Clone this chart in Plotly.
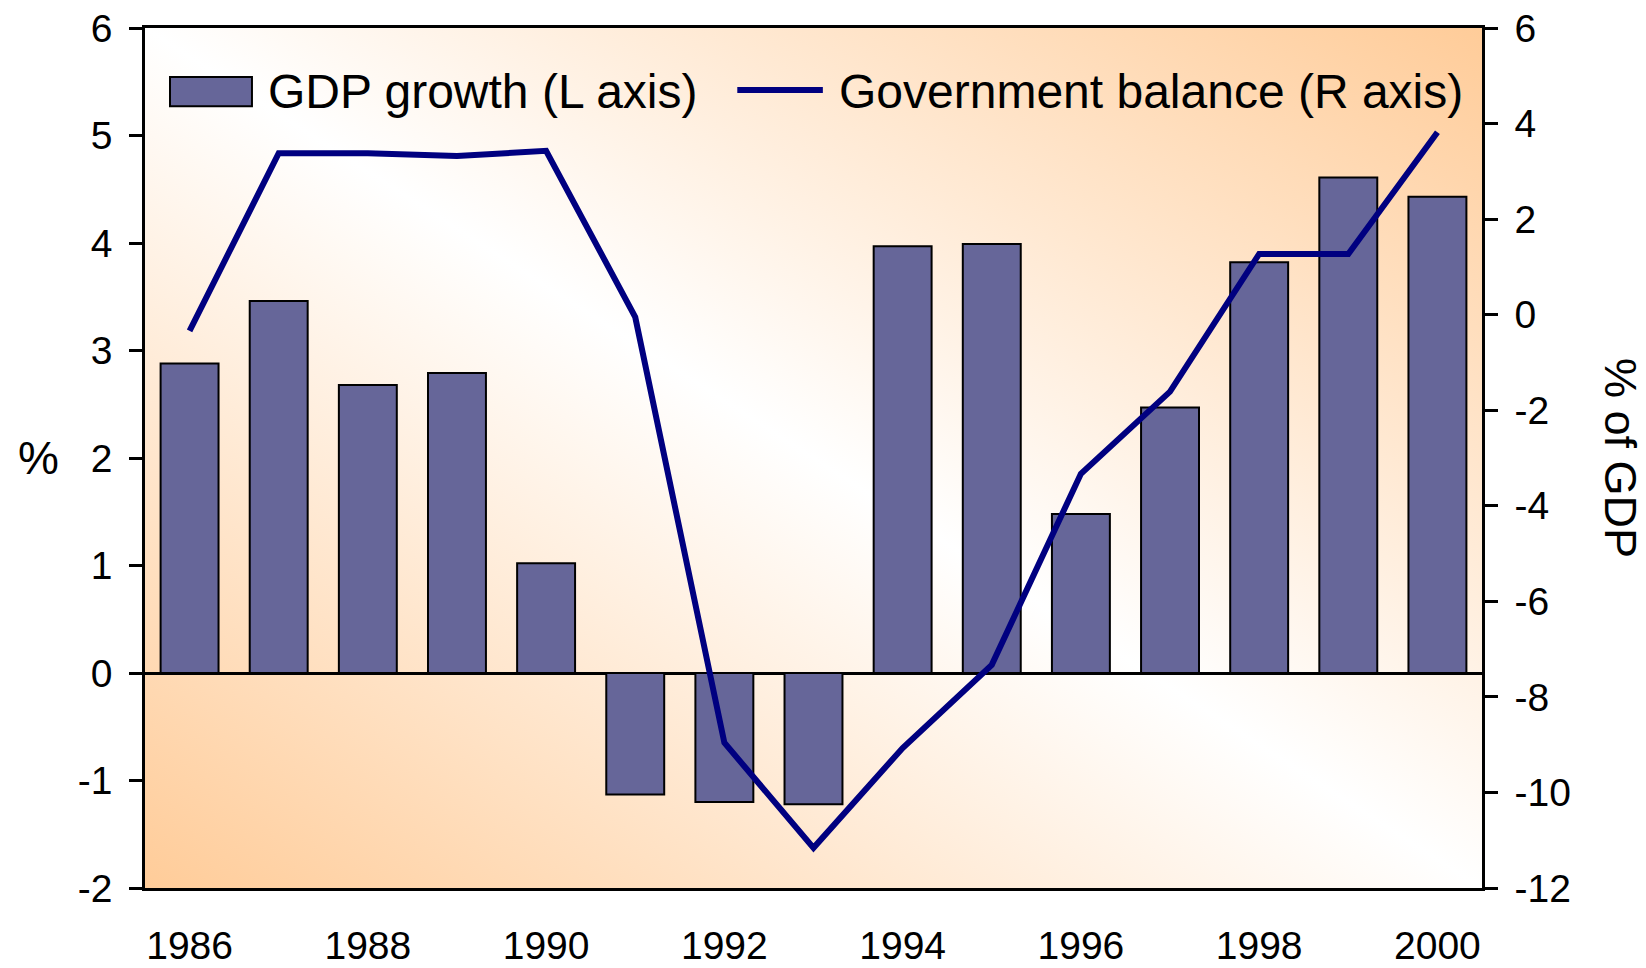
import base64
import plotly.graph_objects as go

years = [1986, 1987, 1988, 1989, 1990, 1991, 1992, 1993, 1994, 1995, 1996, 1997, 1998, 1999, 2000]
gdp_growth = [2.88, 3.46, 2.68, 2.79, 1.02, -1.13, -1.20, -1.22, 3.97, 3.99, 1.48, 2.47, 3.82, 4.61, 4.43]
gov_balance = [-0.34, 3.38, 3.38, 3.32, 3.43, -0.05, -8.96, -11.16, -9.07, -7.33, -3.33, -1.61, 1.27, 1.27, 3.82]
x_ticks = [1986, 1988, 1990, 1992, 1994, 1996, 1998, 2000]
y_left_ticks = [-2, -1, 0, 1, 2, 3, 4, 5, 6]
y_right_ticks = [-12, -10, -8, -6, -4, -2, 0, 2, 4, 6]
bar_name = "GDP growth (L axis)"
line_name = "Government balance (R axis)"

FONT = "Arial, Liberation Sans, sans-serif"
BAR_COLOR = "#666699"
LINE_COLOR = "#000080"
PEACH = "#FFCC99"

svg = (
    '<svg xmlns="http://www.w3.org/2000/svg" width="1337" height="860" '
    'viewBox="0 0 1337 860" preserveAspectRatio="none">'
    '<defs><linearGradient id="g" x1="0" y1="1" x2="1" y2="0">'
    f'<stop offset="0" stop-color="{PEACH}"/>'
    '<stop offset="0.5" stop-color="#FFFFFF"/>'
    f'<stop offset="1" stop-color="{PEACH}"/>'
    '</linearGradient></defs>'
    '<rect x="0" y="0" width="1337" height="860" fill="url(#g)"/></svg>'
)
bg_src = "data:image/svg+xml;base64," + base64.b64encode(svg.encode()).decode()

fig = go.Figure()
fig.add_trace(go.Bar(
    x=years, y=gdp_growth, name=bar_name, width=0.65,
    marker=dict(color=BAR_COLOR, line=dict(color="black", width=2)),
    yaxis="y", showlegend=False,
))
fig.add_trace(go.Scatter(
    x=years, y=gov_balance, name=line_name, mode="lines",
    line=dict(color=LINE_COLOR, width=6),
    yaxis="y2", showlegend=False,
))

axis_common = dict(
    showline=True, linecolor="black", linewidth=2.5,
    ticks="outside", ticklen=13, tickwidth=2.5, tickcolor="black",
    showgrid=False, automargin=False, ticklabeloverflow="allow",
    tickfont=dict(family=FONT, size=39, color="black"),
)

# page has an 8px body margin, so the figure is 8px smaller than the window
fig.update_layout(
    width=1638, height=960,
    margin=dict(l=137, r=164, t=20, b=80),
    paper_bgcolor="white", plot_bgcolor="rgba(0,0,0,0)",
    font=dict(family=FONT, color="black"),
    xaxis=dict(
        range=[1985.5, 2000.5], tickvals=x_ticks, ticktext=[str(v) for v in x_ticks],
        showline=True, mirror=True, linecolor="black", linewidth=2.5,
        ticks="", showgrid=False, zeroline=False, automargin=False,
        ticklabeloverflow="allow",
        tickfont=dict(family=FONT, size=39, color="black"),
        ticklabelstandoff=21,
    ),
    yaxis=dict(
        range=[-2, 6], tickvals=y_left_ticks, ticktext=[str(v) for v in y_left_ticks],
        zeroline=True, zerolinecolor="black", zerolinewidth=2.5,
        ticklabelstandoff=9, **axis_common,
    ),
    yaxis2=dict(
        range=[-12, 6], tickvals=y_right_ticks, ticktext=[str(v) for v in y_right_ticks],
        overlaying="y", side="right", zeroline=False,
        ticklabelstandoff=9, **axis_common,
    ),
    images=[dict(
        source=bg_src, xref="paper", yref="paper", x=0, y=1, sizex=1, sizey=1,
        xanchor="left", yanchor="top", sizing="stretch", layer="below",
    )],
    shapes=[
        dict(type="rect", xref="paper", yref="paper", x0=0.0187, x1=0.080, y0=0.909, y1=0.943,
             fillcolor=BAR_COLOR, line=dict(color="black", width=2)),
        dict(type="line", xref="paper", yref="paper", x0=0.443, x1=0.507, y0=0.928, y1=0.928,
             line=dict(color=LINE_COLOR, width=6)),
    ],
    annotations=[
        dict(text=bar_name, xref="paper", yref="paper", x=0.0905, y=0.926,
             xanchor="left", yanchor="middle", showarrow=False,
             font=dict(family=FONT, size=48, color="black")),
        dict(text=line_name, xref="paper", yref="paper", x=0.5176, y=0.926,
             xanchor="left", yanchor="middle", showarrow=False,
             font=dict(family=FONT, size=48, color="black")),
        dict(text="%", xref="paper", yref="paper", x=-0.08, y=0.5,
             xanchor="center", yanchor="middle", showarrow=False,
             font=dict(family=FONT, size=46, color="black")),
        dict(text="% of GDP", xref="paper", yref="paper", x=1.104, y=0.5,
             xanchor="center", yanchor="middle", showarrow=False, textangle=90,
             font=dict(family=FONT, size=45, color="black")),
    ],
)

fig.write_html("out.html")
